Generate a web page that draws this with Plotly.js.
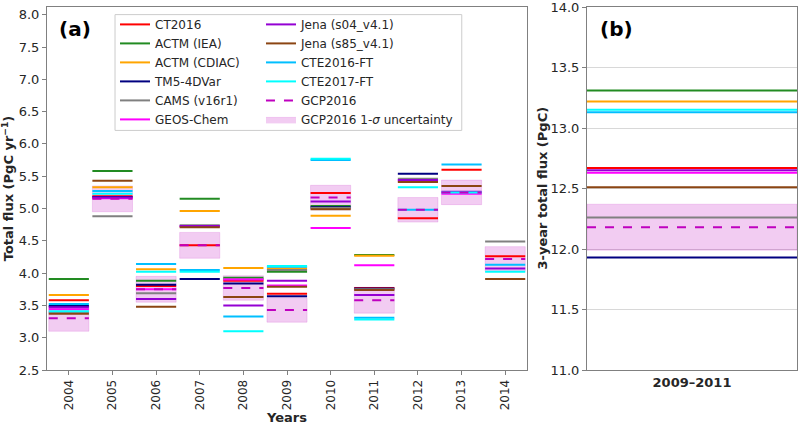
<!DOCTYPE html>
<html>
<head>
<meta charset="utf-8">
<script src="https://cdn.plot.ly/plotly-3.0.1.min.js"></script>
<style>
  html, body { margin: 0; padding: 0; background: #fff; }
  #chart { width: 800px; height: 425px; }
</style>
</head>
<body>
<div id="chart"></div>
<script>
// annual fluxes (PgC/yr), one entry per year, null = no estimate
const years = [2004, 2005, 2006, 2007, 2008, 2009, 2010, 2011, 2012, 2013, 2014];

const ct2016    = [3.58, 5.19, 3.80, 4.43, 3.88, 3.68, 5.24, 3.77, 4.85, 5.60, 4.26];
const actmIea   = [3.91, 5.58, 3.88, 5.15, 3.93, 4.02, 5.04, 4.28, null, null, null];
const actmCdiac = [3.66, 5.33, 4.06, 4.96, 4.08, 4.07, 4.89, 4.27, null, null, null];
const tm5       = [3.49, 5.18, 3.82, 3.91, 3.84, 3.64, 5.02, 3.76, 5.54, null, null];
const cams      = [3.39, 4.88, 3.69, 4.74, 3.91, 4.05, 5.01, 3.75, 5.46, null, 4.49];
const geosChem  = [3.44, 5.16, 3.75, 4.72, 3.90, 3.81, 4.70, 4.12, 5.43, 5.23, null];
const jenaS04   = [3.47, 5.17, 3.60, 4.73, 3.50, 3.88, 5.11, 3.66, 5.44, 5.26, 4.07];
const jenaS85   = [3.37, 5.43, 3.48, 4.71, 3.63, 3.79, 4.99, 3.74, 5.41, 5.35, 3.91];
const cte2016   = [3.52, 5.27, 4.14, 4.05, 3.33, 4.10, 5.75, 3.31, 4.98, 5.68, 4.13];
const cte2017   = [3.41, 5.23, 4.02, 4.02, 3.10, 4.11, 5.77, 3.28, 5.33, 5.25, 4.02];
const gcp2016   = [3.30, 5.15, 3.75, 4.43, 3.77, 3.43, 5.17, 3.58, 4.98, 5.25, 4.22];
const gcpSigma  = [0.20, 0.20, 0.20, 0.20, 0.19, 0.19, 0.19, 0.20, 0.19, 0.19, 0.19];

// 3-year totals 2009-2011 (PgC)
const periodLabel = "2009–2011";
const totals = {
  ct2016: 12.67, actmIea: 13.31, actmCdiac: 13.22, tm5: 11.93, cams: 12.26,
  geosChem: 12.63, jenaS04: 12.65, jenaS85: 12.51, cte2016: 13.13, cte2017: 13.15,
  gcp2016: 12.18
};
const totalSigma = 0.19;

const gridVals = [3.0, 3.5, 4.0, 4.5, 5.0, 5.5, 6.0];

const models = [
  {key: "ct2016",    name: "CT2016",          data: ct2016,    color: "#ff0000", legend: "legend"},
  {key: "actmIea",   name: "ACTM (IEA)",      data: actmIea,   color: "#228b22", legend: "legend"},
  {key: "actmCdiac", name: "ACTM (CDIAC)",    data: actmCdiac, color: "#ffa500", legend: "legend"},
  {key: "tm5",       name: "TM5-4DVar",       data: tm5,       color: "#000080", legend: "legend"},
  {key: "cams",      name: "CAMS (v16r1)",    data: cams,      color: "#808080", legend: "legend"},
  {key: "geosChem",  name: "GEOS-Chem",       data: geosChem,  color: "#ff00ff", legend: "legend"},
  {key: "jenaS04",   name: "Jena (s04_v4.1)", data: jenaS04,   color: "#9400d3", legend: "legend2"},
  {key: "jenaS85",   name: "Jena (s85_v4.1)", data: jenaS85,   color: "#8b4513", legend: "legend2"},
  {key: "cte2016",   name: "CTE2016-FT",      data: cte2016,   color: "#00bfff", legend: "legend2"},
  {key: "cte2017",   name: "CTE2017-FT",      data: cte2017,   color: "#00ffff", legend: "legend2"},
];
const gcpColor = "#bf00bf";
const half = 0.46;

// helpers: step segments, one per year
function segX() {
  const xs = [];
  years.forEach(yr => { xs.push(yr - half, yr + half, null); });
  return xs;
}
function segY(vals) {
  const ys = [];
  vals.forEach(v => { ys.push(v, v, null); });
  return ys;
}

const traces = [];

// uncertainty boxes (a)
const boxX = [], boxY = [];
years.forEach((yr, i) => {
  const lo = gcp2016[i] - gcpSigma[i], hi = gcp2016[i] + gcpSigma[i];
  boxX.push(yr - half, yr + half, yr + half, yr - half, yr - half, null);
  boxY.push(lo, lo, hi, hi, lo, null);
});
traces.push({
  x: boxX, y: boxY, type: "scatter", mode: "lines", fill: "toself",
  fillcolor: "rgba(191,0,191,0.2)", line: {color: "rgba(191,0,191,0.15)", width: 1},
  name: "GCP2016 1-<i>σ</i> uncertainty", legend: "legend2", legendrank: 1020,
  xaxis: "x", yaxis: "y", hoverinfo: "skip"
});

models.forEach((m, i) => {
  traces.push({
    x: segX(), y: segY(m.data), type: "scatter", mode: "lines",
    line: {color: m.color, width: 2}, name: m.name, legend: m.legend,
    legendrank: 1000 + i, connectgaps: false, xaxis: "x", yaxis: "y"
  });
});
traces.push({
  x: segX(), y: segY(gcp2016), type: "scatter", mode: "lines",
  line: {color: gcpColor, width: 2, dash: "dash"}, name: "GCP2016",
  legend: "legend2", legendrank: 1015, xaxis: "x", yaxis: "y"
});

// panel (b)
const tLo = totals.gcp2016 - totalSigma, tHi = totals.gcp2016 + totalSigma;
traces.push({
  x: [0, 1, 1, 0, 0], y: [tLo, tLo, tHi, tHi, tLo], type: "scatter", mode: "lines",
  fill: "toself", fillcolor: "rgba(191,0,191,0.2)", line: {color: "rgba(191,0,191,0.15)", width: 1},
  showlegend: false, xaxis: "x2", yaxis: "y2", hoverinfo: "skip"
});
models.forEach(m => {
  traces.push({
    x: [0, 1], y: [totals[m.key], totals[m.key]], type: "scatter", mode: "lines",
    line: {color: m.color, width: 2}, showlegend: false, xaxis: "x2", yaxis: "y2"
  });
});
traces.push({
  x: [0, 1], y: [totals.gcp2016, totals.gcp2016], type: "scatter", mode: "lines",
  line: {color: gcpColor, width: 2, dash: "dash"}, showlegend: false, xaxis: "x2", yaxis: "y2"
});

const font = "DejaVu Sans, sans-serif";
const frame = "#808080";

const layout = {
  width: 800, height: 425,
  margin: {l: 47, r: 3, t: 7, b: 55},
  paper_bgcolor: "#fff", plot_bgcolor: "#fff",
  font: {family: font, size: 13, color: "#262626"},
  showlegend: true,
  xaxis: {
    domain: [0, 0.64], range: [2003.5, 2014.5],
    tickmode: "array", tickvals: years, ticktext: years.map(String), tickangle: -90,
    tickfont: {size: 12},
    ticks: "outside", ticklen: 4, tickcolor: frame,
    showline: true, linecolor: frame, mirror: true, showgrid: false, zeroline: false,
    title: {text: "<b>Years</b>", font: {size: 13}, standoff: 2}
  },
  yaxis: {
    domain: [0, 1], range: [2.5, 8.12], tick0: 2.5, dtick: 0.5, tickformat: ".1f",
    ticks: "outside", ticklen: 4, tickcolor: frame, ticklabeloverflow: "allow",
    showline: true, linecolor: frame, mirror: true, showgrid: false, zeroline: false,
    title: {text: "<b>Total flux (PgC yr<sup>−1</sup>)</b>", font: {size: 13}, standoff: 6}
  },
  yaxis3: {
    overlaying: "y", range: [2.5, 8.12], tickmode: "array", tickvals: gridVals,
    showticklabels: false, ticks: "", showgrid: true, gridcolor: "#b8b8b8", gridwidth: 1,
    zeroline: false, showline: false
  },
  xaxis2: {
    domain: [0.72, 1], range: [0, 1], anchor: "y2",
    tickmode: "array", tickvals: [0.5], ticktext: ["<b>" + periodLabel + "</b>"],
    ticks: "", showline: true, linecolor: frame, mirror: true, showgrid: false, zeroline: false
  },
  yaxis2: {
    domain: [0, 1], range: [11, 14], dtick: 0.5, tickformat: ".1f", anchor: "x2",
    ticks: "outside", ticklen: 4, tickcolor: frame, ticklabeloverflow: "allow",
    showline: true, linecolor: frame, mirror: true, showgrid: true, gridcolor: "#d8d8d8",
    zeroline: false
  },
  legend: {
    x: 0.0907, y: 0.992, xanchor: "left", yanchor: "top",
    bgcolor: "rgba(0,0,0,0)", borderwidth: 0, font: {size: 12, color: "#262626"},
    tracegroupgap: 0, itemwidth: 30
  },
  legend2: {
    x: 0.2853, y: 0.992, xanchor: "left", yanchor: "top",
    bgcolor: "rgba(0,0,0,0)", borderwidth: 0, font: {size: 12, color: "#262626"},
    tracegroupgap: 0, itemwidth: 30
  },
  shapes: [{
    type: "rect", xref: "paper", yref: "paper", layer: "below",
    x0: 0.0907, x1: 0.553, y0: 0.66, y1: 0.979,
    line: {color: "#cccccc", width: 1}, fillcolor: "rgba(255,255,255,0.8)"
  }],
  annotations: [
    {text: "<b>(a)</b>", xref: "paper", yref: "paper", x: 0.013, y: 0.978,
     xanchor: "left", yanchor: "top", showarrow: false, font: {size: 20, color: "#000"}},
    {text: "<b>(b)</b>", xref: "paper", yref: "paper", x: 0.735, y: 0.978,
     xanchor: "left", yanchor: "top", showarrow: false, font: {size: 20, color: "#000"}},
    {text: "<b>3-year total flux (PgC)</b>", xref: "paper", yref: "paper", x: 0.66, y: 0.5,
     xanchor: "center", yanchor: "middle", textangle: -90, showarrow: false,
     font: {size: 13, color: "#262626"}}
  ]
};

Plotly.newPlot("chart", traces, layout, {displayModeBar: false, staticPlot: true});
</script>
</body>
</html>
